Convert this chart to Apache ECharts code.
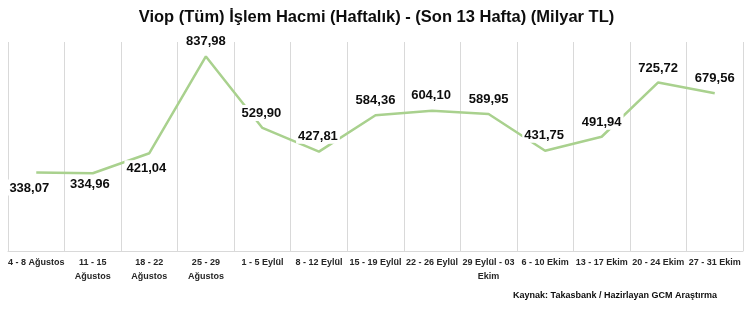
<!DOCTYPE html>
<html>
<head>
<meta charset="utf-8">
<script src="https://cdn.jsdelivr.net/npm/echarts@6/dist/echarts.min.js"></script>
<style>
html,body{margin:0;padding:0;background:#fff;}
#c{width:753px;height:310px;}
</style>
</head>
<body>
<div id="c"></div>
<script>
const categories = ["4 - 8 Ağustos","11 - 15 Ağustos","18 - 22 Ağustos","25 - 29 Ağustos","1 - 5 Eylül","8 - 12 Eylül","15 - 19 Eylül","22 - 26 Eylül","29 Eylül - 03 Ekim","6 - 10 Ekim","13 - 17 Ekim","20 - 24 Ekim","27 - 31 Ekim"];
const tickLabels = ["4 - 8 Ağustos","11 - 15\nAğustos","18 - 22\nAğustos","25 - 29\nAğustos","1 - 5 Eylül","8 - 12 Eylül","15 - 19 Eylül","22 - 26 Eylül","29 Eylül - 03\nEkim","6 - 10 Ekim","13 - 17 Ekim","20 - 24 Ekim","27 - 31 Ekim"];
const values = [338.07,334.96,421.04,837.98,529.90,427.81,584.36,604.10,589.95,431.75,491.94,725.72,679.56];
const titleText = "Viop (Tüm) İşlem Hacmi (Haftalık) - (Son 13 Hafta) (Milyar TL)";
const sourceText = "Kaynak: Takasbank / Hazirlayan GCM Araştırma";

// label placement (styling only)
const labelSide = ["bottom","bottom","bottom","top","top","top","top","top","top","top","top","top","top"];
const labelDist = [6,2,6,6,6,7,6,7,6,7,6,6,6];
const labelDx = [-7,-3,-3,0,-1,-1,0,-1,0,-1,0,0,0];

const fmt = v => v.toFixed(2).replace('.', ',');

const chart = echarts.init(document.getElementById('c'), null, {renderer:'canvas'});
chart.setOption({
  animation:false,
  backgroundColor:'#ffffff',
  title:{
    text:titleText, left:'center', top:4,
    textStyle:{fontFamily:'Liberation Sans', fontWeight:'bold', fontSize:16.5, color:'#0d0d0d'}
  },
  grid:{left:8, right:10, top:42, bottom:59, containLabel:false},
  xAxis:{
    type:'category', data:categories, boundaryGap:true,
    axisLine:{show:true, lineStyle:{color:'#d9d9d9', width:1}},
    axisTick:{show:false},
    splitLine:{show:true, interval:0, lineStyle:{color:'#d9d9d9', width:1}},
    axisLabel:{
      interval:0, margin:5, color:'#262626',
      fontFamily:'Liberation Sans', fontWeight:'bold', fontSize:9, lineHeight:14,
      formatter:(v, i) => tickLabels[i]
    }
  },
  yAxis:{
    type:'value', min:0, max:900, interval:100, show:false,
    splitLine:{show:false}
  },
  series:[{
    type:'line',
    data:values.map((v,i)=>({
      value:v,
      label:{position:labelSide[i], distance:labelDist[i], offset:[labelDx[i],0]}
    })),
    symbol:'circle', symbolSize:2, showSymbol:true,
    itemStyle:{color:'rgba(0,0,0,0)', borderWidth:0},
    lineStyle:{color:'#a9d18e', width:2.5},
    label:{
      show:true, formatter:p=>fmt(p.value),
      color:'#0d0d0d', fontFamily:'Liberation Sans', fontWeight:'bold', fontSize:13,
      backgroundColor:'#ffffff', padding:[2,2,1,2]
    },
    z:2
  }],
  graphic:[{
    type:'text', right:36, top:291,
    style:{text:sourceText, fill:'#0d0d0d', font:'bold 9px "Liberation Sans"'}
  }]
});
</script>
</body>
</html>
